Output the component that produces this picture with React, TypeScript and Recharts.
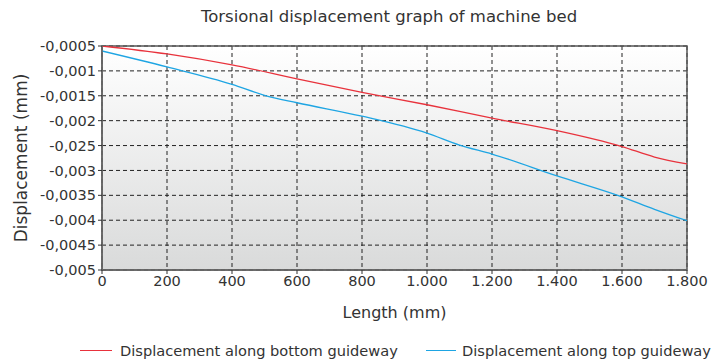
import React from 'react';
import { LineChart, Line, XAxis, YAxis, CartesianGrid, Legend, ReferenceArea } from 'recharts';

const lengthsBottom = [0, 200, 400, 600, 800, 1000, 1200, 1400, 1600, 1700, 1800];
const bottomGuideway = [-0.0005, -0.00066, -0.00088, -0.00116, -0.00143, -0.00168, -0.00195, -0.0022, -0.00252, -0.00273, -0.00287];
const lengthsTop = [0, 200, 400, 500, 600, 800, 1000, 1100, 1200, 1400, 1600, 1700, 1800];
const topGuideway = [-0.0006, -0.00092, -0.00127, -0.00149, -0.00164, -0.00191, -0.00225, -0.00249, -0.00267, -0.00311, -0.00353, -0.00378, -0.00401];
const xTicks = [0, 200, 400, 600, 800, 1000, 1200, 1400, 1600, 1800];
const xTickLabels = ['0', '200', '400', '600', '800', '1.000', '1.200', '1.400', '1.600', '1.800'];
const yTicks = [-0.0005, -0.001, -0.0015, -0.002, -0.0025, -0.003, -0.0035, -0.004, -0.0045, -0.005];
const yTickLabels = ['-0,0005', '-0,001', '-0,0015', '-0,002', '-0,025', '-0,003', '-0,0035', '-0,004', '-0,0045', '-0,005'];
const seriesNames = ['Displacement along bottom guideway', 'Displacement along top guideway'];
const seriesColors = ['#e8323c', '#1ea5e3'];

const bottomData = lengthsBottom.map((x, i) => ({ x, y: bottomGuideway[i] }));
const topData = lengthsTop.map((x, i) => ({ x, y: topGuideway[i] }));

const FONT = '"DejaVu Sans", sans-serif';

const nearestLabel = (v: number, ticks: number[], labels: string[]) => {
  let best = 0;
  ticks.forEach((t, i) => {
    if (Math.abs(t - v) < Math.abs(ticks[best] - v)) best = i;
  });
  return labels[best];
};

const LegendContent = () => (
  <div style={{ display: 'flex', fontFamily: FONT, fontSize: 14.6, color: '#333', whiteSpace: 'nowrap' }}>
    <div style={{ position: 'absolute', left: 80, top: 0, display: 'flex', alignItems: 'center' }}>
      <span style={{ display: 'inline-block', width: 32, height: 1.5, background: seriesColors[0], marginRight: 8 }} />
      <span>{seriesNames[0]}</span>
    </div>
    <div style={{ position: 'absolute', left: 426, top: 0, display: 'flex', alignItems: 'center' }}>
      <span style={{ display: 'inline-block', width: 30, height: 1.5, background: seriesColors[1], marginRight: 6 }} />
      <span>{seriesNames[1]}</span>
    </div>
  </div>
);

export default function App() {
  return (
    <div style={{ position: 'absolute', left: 0, top: 0, width: 722, height: 362, background: '#fff' }}>
      <div style={{ position: 'absolute', left: 0, top: 7, width: 778, textAlign: 'center', fontFamily: FONT, fontSize: 16.5, color: '#333', whiteSpace: 'nowrap' }}>
        Torsional displacement graph of machine bed
      </div>
      <LineChart width={722} height={362} margin={{ top: 46, right: 35, bottom: 22, left: 0 }}>
        <defs>
          <linearGradient id="bgGrad" x1="0" y1="0" x2="0" y2="1">
            <stop offset="0%" stopColor="#ffffff" />
            <stop offset="100%" stopColor="#d9dada" />
          </linearGradient>
        </defs>
        <CartesianGrid stroke="#222" strokeDasharray="4 3" fill="url(#bgGrad)" fillOpacity={1} />
        <XAxis
          type="number"
          dataKey="x"
          domain={[0, 1800]}
          ticks={xTicks}
          allowDataOverflow
          height={50}
          tickSize={4}
          tickMargin={2}
          tick={{ fill: '#333', fontSize: 14.5, fontFamily: FONT }}
          tickFormatter={(v: number) => nearestLabel(v, xTicks, xTickLabels)}
          axisLine={{ stroke: '#666', strokeWidth: 1.5 }}
          tickLine={{ stroke: '#333' }}
          label={{ value: 'Length (mm)', position: 'insideBottom', offset: 2, fill: '#333', fontSize: 16, fontFamily: FONT }}
        />
        <YAxis
          type="number"
          domain={[-0.005, -0.0005]}
          ticks={yTicks}
          allowDataOverflow
          width={102}
          tickSize={4}
          tickMargin={2}
          tick={{ fill: '#333', fontSize: 14.5, fontFamily: FONT }}
          tickFormatter={(v: number) => nearestLabel(v, yTicks, yTickLabels)}
          axisLine={{ stroke: '#666', strokeWidth: 1.5 }}
          tickLine={{ stroke: '#333' }}
          label={{ value: 'Displacement (mm)', angle: -90, position: 'insideLeft', offset: 21, fill: '#333', fontSize: 17, fontFamily: FONT, style: { textAnchor: 'middle' } }}
        />
        <ReferenceArea x1={0} x2={1800} y1={-0.005} y2={-0.0005} fill="none" stroke="#555" strokeWidth={1.5} ifOverflow="visible" />
        <Line data={bottomData} dataKey="y" type="monotone" stroke={seriesColors[0]} strokeWidth={1.3} dot={false} isAnimationActive={false} name={seriesNames[0]} />
        <Line data={topData} dataKey="y" type="monotone" stroke={seriesColors[1]} strokeWidth={1.3} dot={false} isAnimationActive={false} name={seriesNames[1]} />
        <Legend content={LegendContent} wrapperStyle={{ position: 'absolute', left: 0, top: 342, width: 722, height: 20 }} />
      </LineChart>
    </div>
  );
}
